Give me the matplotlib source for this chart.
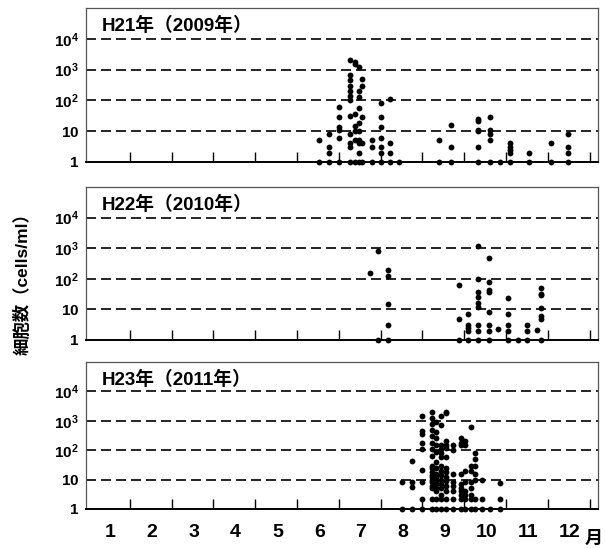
import matplotlib

matplotlib.use("Agg")
import matplotlib.pyplot as plt
import numpy as np

plt.rc("font", family=["Liberation Sans", "Noto Sans CJK JP", "DejaVu Sans"])
plt.rc("mathtext", fontset="custom", rm="Liberation Sans", bf="Liberation Sans:bold")

# month position (0 = Jan 1, 12 = Dec 31) of each sampling column, and cell counts
h21_month = [5.53, 5.77, 6.00, 6.27, 6.39, 6.48, 6.55, 6.79, 7.01, 7.22, 7.44,
             8.40, 8.68, 9.33, 9.62, 9.86, 10.10, 10.55, 11.08, 11.48]
h21_cells = [
    [5, 1],
    [8, 3, 2, 1],
    [60, 28, 14, 11, 6, 1],
    [2000, 650, 450, 300, 200, 140, 100, 32, 8, 4, 3, 1],
    [1800, 1500, 35, 15, 10, 5, 1],
    [1200, 200, 130, 55, 18, 10, 5, 4, 2, 1],
    [500, 300, 28, 4, 1],
    [5, 3, 1],
    [80, 28, 14, 6, 3, 2, 1],
    [115, 4, 2, 1],
    [1],
    [5, 1],
    [16, 3, 1],
    [25, 22, 11, 10, 3, 1],
    [28, 11, 8, 5, 1],
    [1],
    [4, 3, 2.5, 2, 1],
    [2, 1],
    [4, 1],
    [8, 3, 2, 1],
]

h22_month = [6.75, 6.94, 7.18, 8.88, 9.09, 9.33, 9.59, 9.81, 10.05, 10.29,
             10.50, 10.74, 10.84]
h22_cells = [
    [155],
    [780, 1],
    [200, 120, 15, 3, 1],
    [65, 5, 1],
    [7, 3, 2.5, 2, 1],
    [1200, 100, 38, 26, 16, 12, 3, 2, 1],
    [470, 80, 42, 36, 8, 3, 2, 1],
    [2.3],
    [23, 7, 3, 2, 1],
    [1],
    [3, 2, 1],
    [2.2],
    [50, 33, 30, 11, 6, 5, 1],
]

h23_month = [7.51, 7.75, 7.99, 8.23, 8.33, 8.44, 8.56, 8.73, 8.92, 9.02,
             9.16, 9.26, 9.43, 9.62, 9.86]
h23_cells = [
    [8.5, 1],
    [42, 8.5, 5.5, 1],
    [1500, 450, 350, 170, 110, 22, 8.5, 2.2, 1],
    [2000, 1200, 800, 500, 300, 180, 110, 65, 30, 25, 18, 14, 12, 10, 8, 6, 5, 2.2, 1],
    [900, 400, 250, 150, 90, 40, 25, 16, 12, 9, 7, 5, 4, 2.2, 1],
    [1500, 700, 150, 110, 80, 60, 30, 20, 14, 10, 7, 5, 3, 2.2, 1],
    [2000, 1800, 200, 150, 120, 60, 25, 18, 12, 9, 6, 4, 2.2, 1],
    [150, 100, 15, 8, 6, 4, 2.2, 1],
    [250, 180, 150, 15, 7, 5, 4, 3, 2.2, 1],
    [200, 150, 20, 8, 4, 3, 2.2, 1],
    [600, 30, 20, 8, 5, 3, 2.2, 1],
    [80, 50, 30, 15, 10, 2.2, 1],
    [10, 2.2, 1],
    [1],
    [7.5, 2.2, 1],
]

titles = ["H21年（2009年）", "H22年（2010年）", "H23年（2011年）"]
month_labels = [str(m) for m in range(1, 13)]
grid_levels = [10, 1e2, 1e3, 1e4]
ytick_vals = [1, 10, 1e2, 1e3, 1e4]
ytick_labels = [r"$\mathbf{1}$", r"$\mathbf{10}$", r"$\mathbf{10^2}$",
                r"$\mathbf{10^3}$", r"$\mathbf{10^4}$"]

panels = [
    (h21_month, h21_cells, [0.1419, 0.7044, 0.845, 0.281]),
    (h22_month, h22_cells, [0.1419, 0.3796, 0.845, 0.2792]),
    (h23_month, h23_cells, [0.1419, 0.0712, 0.845, 0.2682]),
]

fig = plt.figure(figsize=(6.06, 5.48), dpi=100)

for i, (months, cells, rect) in enumerate(panels):
    ax = fig.add_axes(rect)
    ax.set_yscale("log")
    ax.set_ylim(1, 1e5)
    ax.set_xlim(-0.05, 12.2)

    for lev in grid_levels:
        ax.axhline(lev, color="black", lw=1.2, linestyle=(0, (6, 3)), zorder=1)

    for m, vals in zip(months, cells):
        ax.plot([m] * len(vals), vals, "o", color="black", ms=4.2,
                mec="none", clip_on=False, zorder=3)

    ax.text(0.03, 0.94, titles[i], transform=ax.transAxes, fontsize=13.5,
            fontweight="bold", va="top", ha="left")

    for side in ["top", "left", "right"]:
        ax.spines[side].set_color("#555555")
        ax.spines[side].set_linewidth(0.9)
    ax.spines["bottom"].set_linewidth(1.4)

    ax.set_yticks(ytick_vals)
    ax.set_yticklabels(ytick_labels, fontsize=11)
    ax.yaxis.set_minor_locator(matplotlib.ticker.NullLocator())
    ax.tick_params(axis="y", length=0, pad=5)

    ax.set_xticks(np.arange(1, 13))
    ax.set_xticklabels([])
    ax.tick_params(axis="x", which="major", direction="in", length=7, width=1)
    if i == 2:
        ax.set_xticks(np.arange(1, 13) - 0.47, minor=True)
        ax.set_xticklabels(month_labels, minor=True, fontsize=14,
                           fontweight="bold",
                           family=["Liberation Sans Narrow", "Liberation Sans"])
        ax.tick_params(axis="x", which="minor", length=0, pad=11)

fig.text(0.036, 0.49, "細胞数（cells/ml）", rotation=90, fontsize=12.5,
         fontweight="bold", ha="center", va="center")
fig.text(0.995, 0.0, "月", fontsize=13, fontweight="bold", ha="right",
         va="bottom")

fig.savefig("out.png", dpi=100)
